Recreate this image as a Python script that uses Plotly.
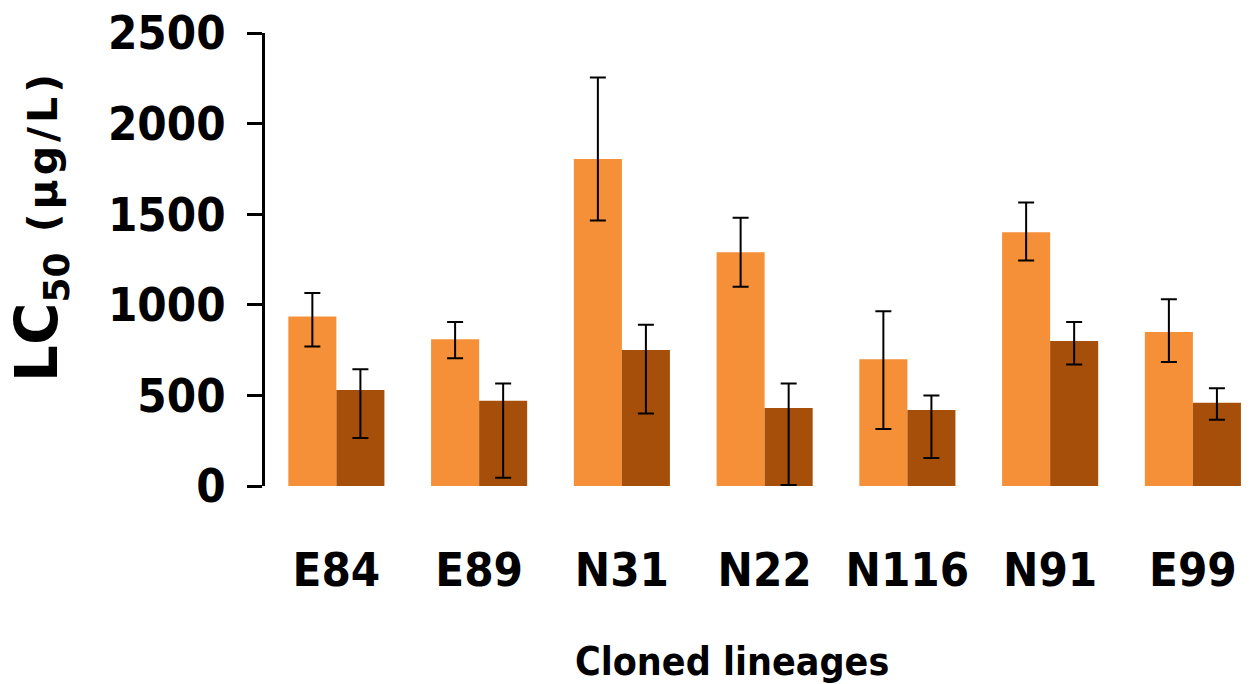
import plotly.graph_objects as go

# LC50 per cloned lineage, two exposure groups
lineages = ["E84", "E89", "N31", "N22", "N116", "N91", "E99"]

light_vals = [935, 810, 1805, 1290, 700, 1400, 850]
light_err_plus = [130, 95, 450, 190, 265, 165, 180]
light_err_minus = [165, 105, 340, 190, 385, 155, 165]

dark_vals = [530, 470, 750, 430, 420, 800, 460]
dark_err_plus = [115, 95, 140, 135, 80, 105, 80]
dark_err_minus = [265, 425, 350, 425, 265, 130, 95]

y_ticks = [0, 500, 1000, 1500, 2000, 2500]

LIGHT = "#F58F38"
DARK = "#A64F0A"
TICK_FONT = dict(family="DejaVu Sans Condensed, DejaVu Sans", size=47, color="black", weight="bold")


def err(plus, minus):
    return dict(type="data", symmetric=False, array=plus, arrayminus=minus,
                color="black", thickness=2, width=8)


fig = go.Figure()
fig.add_trace(go.Bar(x=lineages, y=light_vals, marker_color=LIGHT,
                     error_y=err(light_err_plus, light_err_minus)))
fig.add_trace(go.Bar(x=lineages, y=dark_vals, marker_color=DARK,
                     error_y=err(dark_err_plus, dark_err_minus)))

fig.update_layout(
    template="none",
    width=1250, height=684,
    margin=dict(l=265, r=0, t=33, b=198),
    paper_bgcolor="white", plot_bgcolor="white",
    barmode="group", bargap=0.327, bargroupgap=0,
    showlegend=False,
    xaxis=dict(
        type="category", range=[-0.5, 6.4],
        showline=False, showgrid=False, zeroline=False, ticks="",
        tickfont=TICK_FONT, ticklabelstandoff=52, automargin=False,
    ),
    yaxis=dict(
        range=[0, 2500], tickvals=y_ticks,
        showline=True, linecolor="black", linewidth=3,
        ticks="outside", ticklen=15, tickwidth=3, tickcolor="black",
        showgrid=False, zeroline=False,
        tickfont=TICK_FONT, ticklabelstandoff=12, automargin=False,
    ),
    annotations=[
        dict(
            text="LC<sub><span style='font-size:36px'>50</span></sub> "
                 "<span style='font-size:41px;letter-spacing:4px'>(µg/L)</span>",
            xref="paper", yref="paper", x=-0.2284, y=0.574,
            xanchor="center", yanchor="middle", textangle=-90, showarrow=False,
            font=dict(family="DejaVu Sans", size=58, color="black", weight="bold"),
        ),
        dict(
            text="Cloned lineages",
            xref="paper", yref="paper", x=0.474, y=-0.3885,
            xanchor="center", yanchor="middle", showarrow=False,
            font=dict(family="DejaVu Sans Condensed, DejaVu Sans", size=39,
                      color="black", weight="bold"),
        ),
    ],
)

fig.write_html("out.html")
